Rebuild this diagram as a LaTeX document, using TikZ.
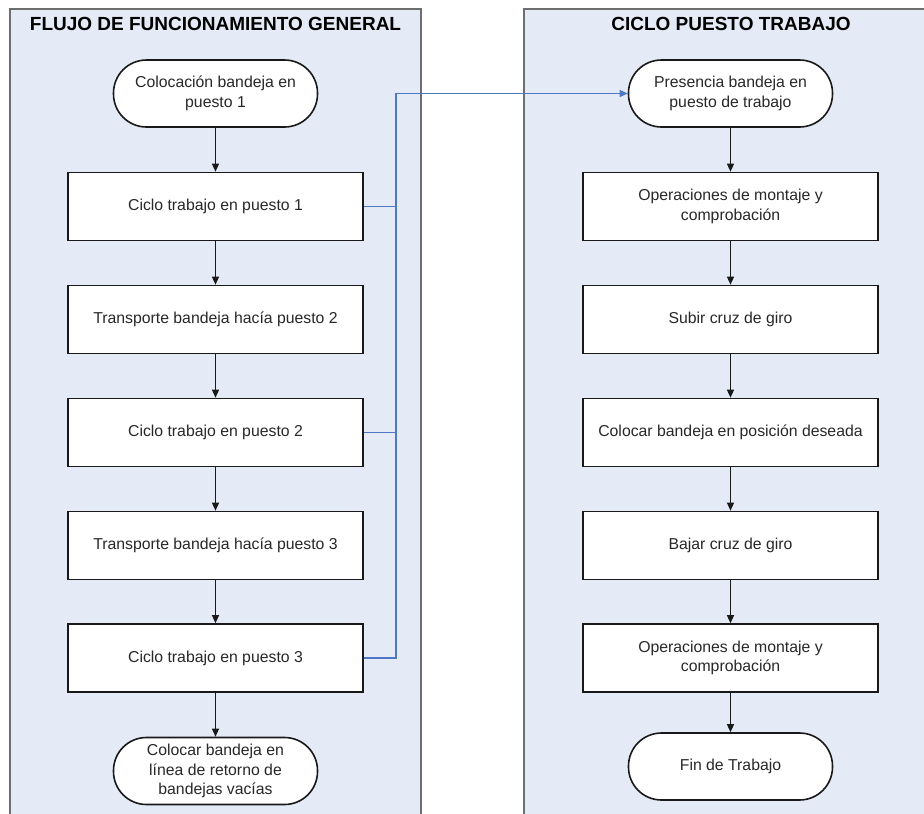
\documentclass[tikz,border=0pt]{standalone}
\usepackage{fontspec}
\setmainfont{Liberation Sans}
\usetikzlibrary{arrows.meta}
\definecolor{lanefill}{RGB}{228,234,246}
\definecolor{laneedge}{RGB}{110,110,110}
\definecolor{linkblue}{RGB}{79,120,196}
\definecolor{inktext}{RGB}{40,40,40}
\begin{document}
\begin{tikzpicture}[x=1pt,y=1pt,
  lane/.style={fill=lanefill,draw=laneedge,line width=1.8pt},
  lanetitle/.style={font=\fontsize{19}{22}\selectfont\bfseries,text=black},
  stepbox/.style={draw=black!90,line width=1.6pt,fill=white,minimum width=295pt,minimum height=68pt,
    align=center,text=inktext,font=\fontsize{15.8}{19.5}\selectfont,inner sep=2pt},
  term/.style={stepbox,rounded corners=33pt,minimum width=204pt,minimum height=67pt},
  flow/.style={draw=black!90,line width=1.2pt,-{Triangle[length=8pt,width=7pt]}},
  link/.style={draw=linkblue,line width=1.3pt},
]
\useasboundingbox (0,0) rectangle (924,-814);
\fill[white] (0,0) rectangle (924,-814);

% swimlanes
\draw[lane] (10,-9) rectangle (421,-840);
\draw[lane] (524,-9) rectangle (950,-840);
\node[lanetitle] (t1) at (215.5,-24) {FLUJO DE FUNCIONAMIENTO GENERAL};
\node[lanetitle] (t2) at (731,-24) {CICLO PUESTO TRABAJO};

% general flow
\node[term]    (L0) at (215.5,-93.5) {Colocación bandeja en\\puesto 1};
\node[stepbox] (L1) at (215.5,-206.5) {Ciclo trabajo en puesto 1};
\node[stepbox] (L2) at (215.5,-319.5) {Transporte bandeja hacía puesto 2};
\node[stepbox] (L3) at (215.5,-432.5) {Ciclo trabajo en puesto 2};
\node[stepbox] (L4) at (215.5,-545.5) {Transporte bandeja hacía puesto 3};
\node[stepbox] (L5) at (215.5,-658) {Ciclo trabajo en puesto 3};
\node[term]    (L6) at (215.5,-771) {Colocar bandeja en\\línea de retorno de\\bandejas vacías};

% work station cycle
\node[term]    (R0) at (730.5,-93.5) {Presencia bandeja en\\puesto de trabajo};
\node[stepbox] (R1) at (730.5,-206.5) {Operaciones de montaje y\\comprobación};
\node[stepbox] (R2) at (730.5,-319.5) {Subir cruz de giro};
\node[stepbox] (R3) at (730.5,-432.5) {Colocar bandeja en posición deseada};
\node[stepbox] (R4) at (730.5,-545.5) {Bajar cruz de giro};
\node[stepbox] (R5) at (730.5,-658) {Operaciones de montaje y\\comprobación};
\node[term]    (R6) at (730.5,-766.5) {Fin de Trabajo};

% sequence arrows
\foreach \a/\b in {L0/L1,L1/L2,L2/L3,L3/L4,L4/L5,L5/L6,R0/R1,R1/R2,R2/R3,R3/R4,R4/R5,R5/R6}
  \draw[flow] (\a.south) -- (\b.north);

% each work cycle calls the station cycle
\coordinate (bus) at (396,-93.5);
\draw[link] (L1.east) -- (L1.east -| bus);
\draw[link] (L3.east) -- (L3.east -| bus);
\draw[link,-{Triangle[length=8pt,width=7pt]}] (L5.east) -| (bus) -- (R0.west);
\end{tikzpicture}
\end{document}
